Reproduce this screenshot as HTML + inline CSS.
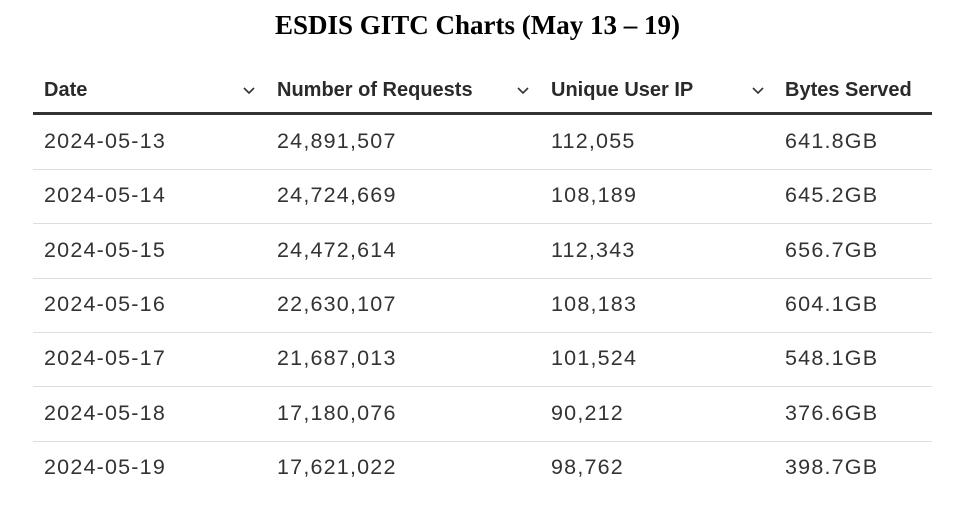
<!DOCTYPE html>
<html><head><meta charset="utf-8"><style>
body{margin:0;width:955px;height:508px;background:#fff;position:relative;overflow:hidden;font-family:"Liberation Sans",sans-serif}
#title{position:absolute;left:0;width:955px;top:10px;text-align:center;font-family:"Liberation Serif",serif;font-weight:bold;font-size:27px;color:#000}
.h{position:absolute;top:79px;font-weight:bold;font-size:20px;color:#2a2a2a}
.chev{position:absolute;top:78px;font-size:16px;color:#333}
.c{position:absolute;font-size:21.5px;color:#333;letter-spacing:1.2px}
.sep{position:absolute;left:33px;width:899px;height:1px;background:#dedede}
</style></head><body>
<div id="title">ESDIS GITC Charts (May 13 – 19)</div>
<div class="h" style="left:44px">Date</div>
<svg class="chev" style="left:242px;top:86px" width="14" height="10"><path d="M2 2 L7 7 L12 2" fill="none" stroke="#333" stroke-width="1.6"/></svg>
<div class="h" style="left:277px">Number of Requests</div>
<svg class="chev" style="left:516px;top:86px" width="14" height="10"><path d="M2 2 L7 7 L12 2" fill="none" stroke="#333" stroke-width="1.6"/></svg>
<div class="h" style="left:551px">Unique User IP</div>
<svg class="chev" style="left:751px;top:86px" width="14" height="10"><path d="M2 2 L7 7 L12 2" fill="none" stroke="#333" stroke-width="1.6"/></svg>
<div class="h" style="left:785px">Bytes Served</div>
<div style="position:absolute;left:33px;top:112px;width:899px;height:3px;background:#333"></div>
<div id="rows"></div>
<script>
const dates=["2024-05-13","2024-05-14","2024-05-15","2024-05-16","2024-05-17","2024-05-18","2024-05-19"];
const requests=["24,891,507","24,724,669","24,472,614","22,630,107","21,687,013","17,180,076","17,621,022"];
const uniqueIPs=["112,055","108,189","112,343","108,183","101,524","90,212","98,762"];
const bytes=["641.8GB","645.2GB","656.7GB","604.1GB","548.1GB","376.6GB","398.7GB"];
const cols=[[44,dates,'date-cell'],[277,requests,'requests-cell'],[551,uniqueIPs,'unique-ip-cell'],[785,bytes,'bytes-cell']];
const root=document.getElementById('rows');
for(let i=0;i<dates.length;i++){
  const y=129+i*54.3;
  cols.forEach(([x,arr,name])=>{
    const d=document.createElement('div');
    d.className='c';d.style.left=x+'px';d.style.top=y+'px';d.textContent=arr[i];
    
    
    root.appendChild(d);
  });
  if(i<dates.length-1){
    const s=document.createElement('div');
    s.className='sep';s.style.top=(169+i*54.3)+'px';
    
    
    root.appendChild(s);
  }
}
</script>
</body></html>
